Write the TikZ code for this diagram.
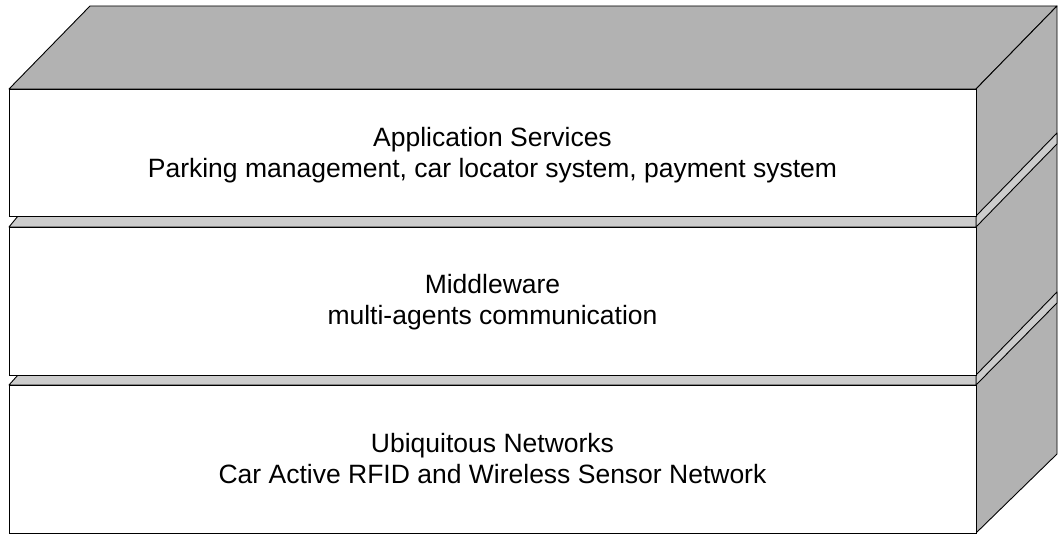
\documentclass[tikz,border=0pt]{standalone}
\usepackage{fontspec}
\setmainfont{Liberation Sans}
\begin{document}
\begin{tikzpicture}[x=1pt,y=-1pt,
  face/.style={fill=black!30, draw=black, line width=0.9pt, line join=round},
  gapface/.style={fill=black!20, draw=black, line width=0.9pt, line join=round},
  front/.style={fill=white, draw=black, line width=0.9pt, inner sep=0pt, minimum width=967pt, anchor=north west},
  label/.style={font=\fontsize{26.5}{31}\selectfont, anchor=base, inner sep=0pt}]
\useasboundingbox (0,0) rectangle (1058,537);
\fill[white] (0,0) rectangle (1058,537);
% top face
\draw[face] (9,89) -- (90,6) -- (1057,6) -- (976,89) -- cycle;
% right face
\draw[face] (976,89) -- (1057,6) -- (1057,454) -- (976,533) -- cycle;
% gaps seen on the right face
\draw[gapface] (976,216) -- (1057,133) -- (1057,144) -- (976,227) -- cycle;
\draw[gapface] (976,375) -- (1057,292) -- (1057,303) -- (976,385) -- cycle;
% gaps seen on the front
\draw[gapface] (9,227) -- (18,216) -- (976,216) -- (976,227) -- cycle;
\draw[gapface] (9,385) -- (18,375) -- (976,375) -- (976,385) -- cycle;
% front faces of the three layers
\node[front, minimum height=127pt] (app) at (9,89) {};
\node[front, minimum height=148pt] (mid) at (9,227) {};
\node[front, minimum height=148pt] (net) at (9,385) {};
% texts
\node[label] (appT) at (492.5,146.5) {Application Services};
\node[label] (appS) at (492.5,177.5) {Parking management, car locator system, payment system};
\node[label] (midT) at (492.5,294) {Middleware};
\node[label] (midS) at (492.5,325) {multi-agents communication};
\node[label] (netT) at (492.5,452) {Ubiquitous Networks};
\node[label] (netS) at (492.5,483) {Car Active RFID and Wireless Sensor Network};
\end{tikzpicture}
\end{document}
